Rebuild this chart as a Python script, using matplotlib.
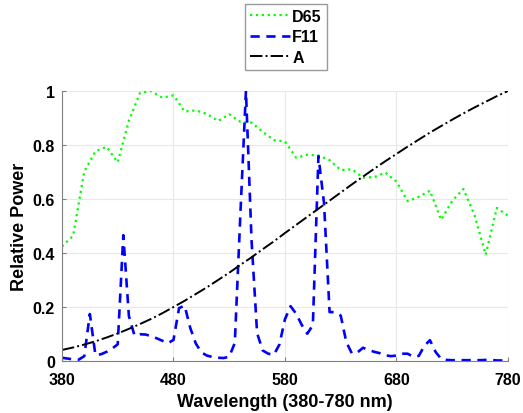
import numpy as np
import matplotlib.pyplot as plt

plt.rcParams['font.family'] = ['Liberation Sans', 'DejaVu Sans']
plt.rcParams['font.weight'] = 'bold'

# wavelengths (nm)
wl10 = np.arange(380, 781, 10)
wl5 = np.arange(380, 781, 5)

# relative spectral power, normalised to max
d65 = [0.424, 0.464, 0.702, 0.777, 0.793, 0.736, 0.890, 0.993, 1.000, 0.975,
       0.984, 0.924, 0.928, 0.915, 0.889, 0.914, 0.886, 0.883, 0.849, 0.818,
       0.813, 0.753, 0.764, 0.761, 0.744, 0.707, 0.710, 0.679, 0.681, 0.698,
       0.664, 0.592, 0.608, 0.631, 0.523, 0.593, 0.637, 0.540, 0.394, 0.567,
       0.538]

f11 = [0.012, 0.009, 0.006, 0.005, 0.018, 0.174, 0.022, 0.025, 0.034, 0.046,
       0.062, 0.466, 0.167, 0.095, 0.099, 0.098, 0.092, 0.084, 0.075, 0.066,
       0.078, 0.196, 0.205, 0.123, 0.065, 0.032, 0.020, 0.015, 0.012, 0.011,
       0.016, 0.067, 0.544, 1.000, 0.448, 0.103, 0.039, 0.027, 0.023, 0.061,
       0.155, 0.203, 0.175, 0.134, 0.101, 0.133, 0.759, 0.585, 0.181, 0.181,
       0.168, 0.070, 0.028, 0.032, 0.049, 0.041, 0.034, 0.029, 0.021, 0.018,
       0.020, 0.027, 0.027, 0.016, 0.019, 0.056, 0.077, 0.034, 0.008, 0.004,
       0.003, 0.003, 0.003, 0.003, 0.003, 0.003, 0.004, 0.004, 0.002, 0.002,
       0.001]

illum_a = [0.041, 0.050, 0.061, 0.073, 0.087, 0.102, 0.119, 0.137, 0.156, 0.177,
           0.200, 0.223, 0.248, 0.273, 0.300, 0.327, 0.356, 0.384, 0.414, 0.443,
           0.474, 0.504, 0.534, 0.564, 0.594, 0.624, 0.654, 0.683, 0.712, 0.740,
           0.767, 0.794, 0.820, 0.846, 0.870, 0.894, 0.917, 0.939, 0.960, 0.981,
           1.000]

fig = plt.figure(figsize=(5.23, 4.14), dpi=100)
ax = fig.add_axes([0.1185, 0.1256, 0.8528, 0.6522])

ax.plot(wl10, d65, color='#00ff00', linestyle=':', linewidth=1.6, label='D65')
ax.plot(wl5, f11, color='#0000ff', linestyle=(0, (3.5, 2.5)), linewidth=1.9, label='F11')
ax.plot(wl10, illum_a, color='black', linestyle='-.', linewidth=1.4, label='A')

ax.set_xlim(380, 780)
ax.set_ylim(0, 1)
ax.set_xticks([380, 480, 580, 680, 780])
ax.set_yticks([0, 0.2, 0.4, 0.6, 0.8, 1])
ax.set_yticklabels(['0', '0.2', '0.4', '0.6', '0.8', '1'])
ax.grid(True, color='#e8e8e8', linewidth=0.8)
ax.set_axisbelow(True)
for s in ['top', 'right']:
    ax.spines[s].set_visible(False)
for s in ['left', 'bottom']:
    ax.spines[s].set_color('#808080')
ax.tick_params(direction='in', length=3, color='#808080', labelsize=11.5)
ax.tick_params(axis='x', pad=8)
ax.tick_params(axis='y', pad=5)

ax.set_xlabel('Wavelength (380-780 nm)', fontsize=13, fontweight='bold', labelpad=4)
ax.set_ylabel('Relative Power', fontsize=13, fontweight='bold', labelpad=3)

leg = fig.legend(loc='upper left', bbox_to_anchor=(245 / 523, 1 - 5 / 414),
                 fontsize=11.5, frameon=True, fancybox=False, edgecolor='#808080',
                 handlelength=2.5, handletextpad=0.15, borderpad=0.3, labelspacing=0.35,
                 borderaxespad=0)
for t in leg.get_texts():
    t.set_fontweight('bold')

fig.savefig('out.png', dpi=100)
